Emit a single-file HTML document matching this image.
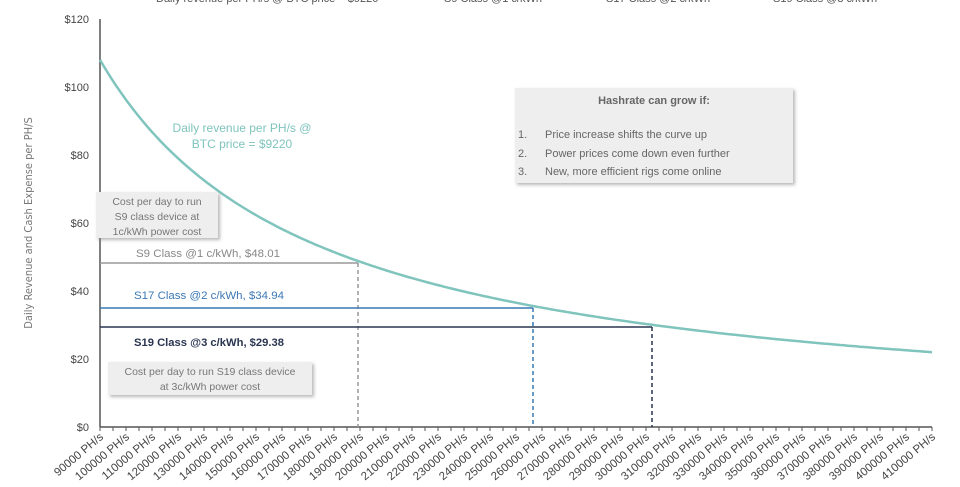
<!DOCTYPE html>
<html><head><meta charset="utf-8"><style>
body{margin:0;background:#fff;width:960px;height:482px;overflow:hidden}
svg text{font-family:"Liberation Sans",sans-serif}
.c{font-family:"DejaVu Sans Condensed","Liberation Sans",sans-serif}
</style></head><body>
<svg id="s" width="960" height="482" xmlns="http://www.w3.org/2000/svg">
<defs><filter id="sh" x="-10%" y="-10%" width="130%" height="140%"><feDropShadow dx="2" dy="2" stdDeviation="1.5" flood-color="#888" flood-opacity="0.6"/></filter></defs>
<g font-size="11" fill="#555">
<line x1="122" y1="-2" x2="153" y2="-2" stroke="#7fc4bd" stroke-width="3"/><text x="156" y="2">Daily revenue per PH/s @ BTC price = $9220</text>
<line x1="416" y1="-2" x2="441" y2="-2" stroke="#999" stroke-width="3"/><text x="444" y="2">S9 Class @1 c/kWh</text>
<line x1="576" y1="-2" x2="603" y2="-2" stroke="#3c78b4" stroke-width="3"/><text x="606" y="2">S17 Class @2 c/kWh</text>
<line x1="744" y1="-2" x2="768" y2="-2" stroke="#2a3550" stroke-width="3"/><text x="773" y="2">S19 Class @3 c/kWh</text>
</g>
<g font-size="11" fill="#444" text-anchor="end">
<text x="89" y="23">$120</text><text x="89" y="91">$100</text><text x="89" y="159">$80</text>
<text x="89" y="227">$60</text><text x="89" y="295">$40</text><text x="89" y="363">$20</text><text x="89" y="431">$0</text>
</g>
<text class="c" transform="translate(32,223) rotate(-90)" font-size="11" fill="#777" text-anchor="middle">Daily Revenue and Cash Expense per PH/S</text>
<line x1="100" y1="19" x2="100" y2="427" stroke="#555" stroke-width="1.5"/>
<line x1="100" y1="427" x2="932" y2="427" stroke="#555" stroke-width="1.5"/>
<g id="ticks" stroke="#555" stroke-width="1"></g>
<g id="xl" font-size="11.5" fill="#444"></g>
<line x1="100" y1="263" x2="358" y2="263" stroke="#999" stroke-width="1.5"/>
<line x1="358" y1="263" x2="358" y2="427" stroke="#999" stroke-width="1.5" stroke-dasharray="4,3"/>
<line x1="100" y1="308" x2="533" y2="308" stroke="#3c78b4" stroke-width="1.5"/>
<line x1="533" y1="308" x2="533" y2="427" stroke="#3c78b4" stroke-width="1.5" stroke-dasharray="4,3"/>
<line x1="100" y1="327" x2="652" y2="327" stroke="#2a3550" stroke-width="1.5"/>
<line x1="652" y1="327" x2="652" y2="427" stroke="#2a3550" stroke-width="1.5" stroke-dasharray="4,3"/>
<path id="cv" fill="none" stroke="#7fc4bd" stroke-width="2.5"/>
<text x="136" y="257" font-size="11" fill="#888" textLength="144" lengthAdjust="spacingAndGlyphs">S9 Class @1 c/kWh, $48.01</text>
<text x="134" y="299" font-size="11" fill="#3c78b4" textLength="150" lengthAdjust="spacingAndGlyphs">S17 Class @2 c/kWh, $34.94</text>
<text x="134" y="346" font-size="11" fill="#2a3550" font-weight="bold" textLength="150" lengthAdjust="spacingAndGlyphs">S19 Class @3 c/kWh, $29.38</text>
<text x="242" y="132" font-size="12" fill="#7fc4bd" text-anchor="middle">Daily revenue per PH/s @</text>
<text x="242" y="148" font-size="12" fill="#7fc4bd" text-anchor="middle">BTC price = $9220</text>
<rect x="96" y="192" width="122" height="46" fill="#eeeeee" filter="url(#sh)"/>
<g font-size="10.5" fill="#777" text-anchor="middle" class="c">
<text x="157" y="205">Cost per day to run</text><text x="157" y="220">S9 class device at</text><text x="157" y="235">1c/kWh power cost</text>
</g>
<rect x="108" y="362" width="204" height="33" fill="#eeeeee" filter="url(#sh)"/>
<g font-size="10.5" fill="#777" text-anchor="middle" class="c">
<text x="210" y="375">Cost per day to run S19 class device</text><text x="210" y="390">at 3c/kWh power cost</text>
</g>
<rect x="515" y="88" width="278" height="95" fill="#eeeeee" filter="url(#sh)"/>
<g font-size="11" fill="#666" class="c">
<text x="654" y="104" text-anchor="middle" font-weight="bold">Hashrate can grow if:</text>
<text x="518" y="138">1.</text><text x="545" y="138">Price increase shifts the curve up</text>
<text x="518" y="157">2.</text><text x="545" y="157">Power prices come down even further</text>
<text x="518" y="175">3.</text><text x="545" y="175">New, more efficient rigs come online</text>
</g>
</svg>
<script>
var ns="http://www.w3.org/2000/svg";
function yv(v){return 427-v*3.4;}
var d="",h0=90000,h1=441000,k=108*h0;
for(var x=100;x<=932;x+=4){var h=h0+(x-100)/830*(h1-h0);d+=(x==100?"M":"L")+x+","+yv(k/h).toFixed(1);}
document.getElementById("cv").setAttribute("d",d);
var t=document.getElementById("ticks"),xl=document.getElementById("xl");
for(var i=0;i<=64;i++){var x=100+i*13;
var l=document.createElementNS(ns,"line");l.setAttribute("x1",x);l.setAttribute("x2",x);l.setAttribute("y1",427);l.setAttribute("y2",431);t.appendChild(l);
if(i%2==0){var tx=document.createElementNS(ns,"text");tx.setAttribute("text-anchor","end");
tx.setAttribute("transform","translate("+(x+4)+",438) rotate(-40)");tx.textContent=(h0+i*5000)+" PH/s";xl.appendChild(tx);}}
</script>
</body></html>
